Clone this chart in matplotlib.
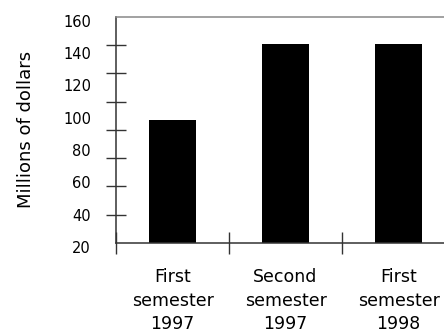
import matplotlib

matplotlib.use("Agg")
import matplotlib.pyplot as plt
import matplotlib.transforms as mtransforms
import numpy as np

categories = ["First\nsemester\n1997", "Second\nsemester\n1997", "First\nsemester\n1998"]
values = [96, 143, 143]
ytick_labels = [20, 40, 60, 80, 100, 120, 140, 160]

plt.rcParams["font.family"] = ["DejaVu Sans"]

fig = plt.figure(figsize=(4.44, 3.34), dpi=100)
ax = fig.add_axes([0.2613, 0.2725, 0.7635, 0.6774])

x = np.arange(len(categories))
ax.bar(x, values, width=0.42, color="black", zorder=2)

ax.set_xlim(-0.5, 2.5)
ax.set_ylim(20, 160)

# tick marks do not line up with the labels in the original
ax.set_yticks(ytick_labels)
ax.set_yticklabels([str(v) for v in ytick_labels], fontsize=10.5)
ax.set_yticks(np.linspace(20, 160, 9), minor=True)
ax.tick_params(axis="y", which="major", length=0, pad=18)
ax.tick_params(axis="y", which="minor", direction="inout", length=14,
               width=1.0, color="#333333")
offset = mtransforms.ScaledTranslation(0, -4 / 100, fig.dpi_scale_trans)
for lab in ax.get_yticklabels():
    lab.set_transform(lab.get_transform() + offset)

ax.set_xticks(x)
ax.set_xticklabels(categories, fontsize=12.5, linespacing=1.4)
ax.set_xticks([-0.5, 0.5, 1.5], minor=True)
ax.tick_params(axis="x", which="major", length=0, pad=18)
ax.tick_params(axis="x", which="minor", direction="inout", length=16,
               width=1.0, color="#333333")

ax.set_ylabel("Millions of dollars", fontsize=13, labelpad=20)

ax.spines["left"].set_color("#333333")
ax.spines["bottom"].set_color("#333333")
ax.spines["top"].set_color("#888888")
ax.spines["right"].set_visible(False)
for s in ("left", "bottom", "top"):
    ax.spines[s].set_linewidth(1.1)

fig.savefig("out.png", dpi=100)
